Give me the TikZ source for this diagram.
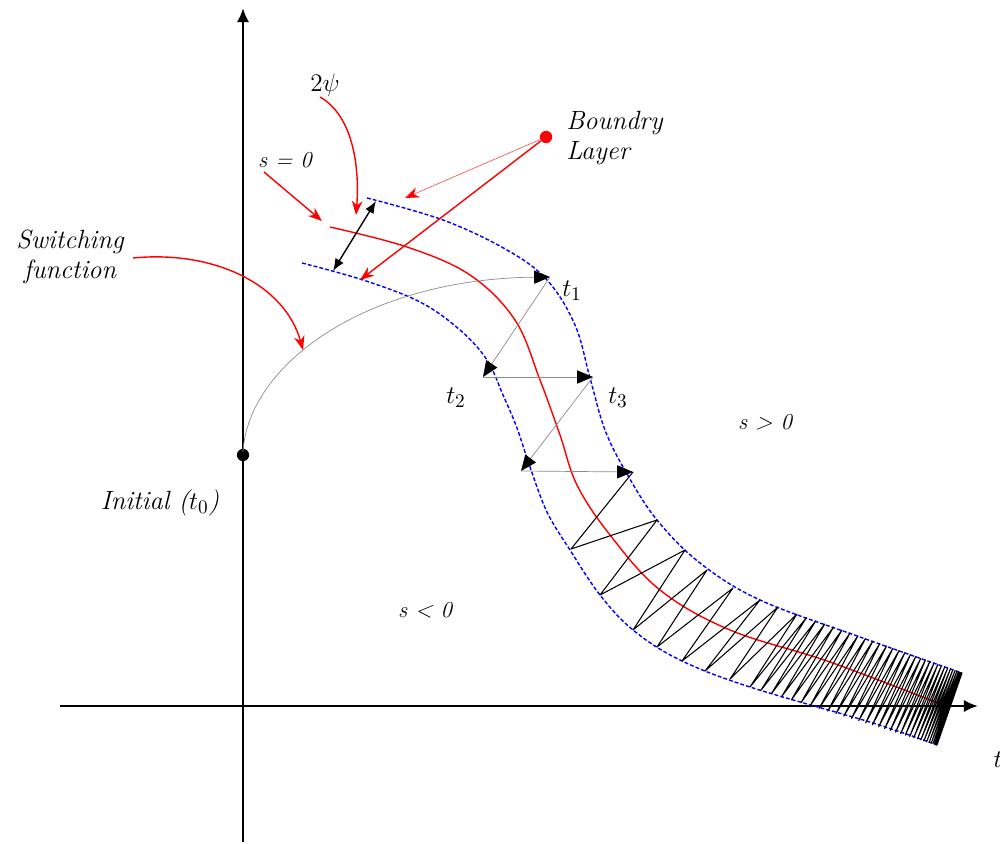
\documentclass[tikz,border=0pt]{standalone}
\usetikzlibrary{arrows.meta}
\begin{document}
\begin{tikzpicture}[x=0.02cm,y=-0.02cm,
  lbl/.style={font=\fontsize{15}{17}\selectfont\itshape, inner sep=0pt},
  slbl/.style={font=\fontsize{13}{15}\selectfont\itshape, inner sep=0pt},
  redarr/.style={draw=red, line width=0.8pt, -{Stealth[length=8pt,width=6pt]}},
  band/.style={draw=blue, line width=0.8pt, dash pattern=on 2.2pt off 1.2pt},
  traj/.style={draw=black!45, line width=0.4pt, -{Triangle[length=9pt,width=7.5pt,color=black]}},
  zig/.style={draw=black, line width=0.6pt, line join=round},
  dotnode/.style={circle, inner sep=0pt, minimum size=7pt}]
\useasboundingbox (0,0) rectangle (1000,844);

% axes
\coordinate (yb) at (243,842);
\coordinate (ym) at (243,480);
\coordinate (yt) at (243,8);
\coordinate (xl) at (60,706);
\coordinate (xm) at (435,706);
\coordinate (xr) at (978,706);
\draw[line width=0.7pt] (yb) -- (ym);
\draw[line width=1.5pt, -{Latex[length=8pt,width=7pt]}] (ym) -- (yt);
\draw[line width=0.7pt] (xl) -- (xm);
\draw[line width=1.5pt, -{Latex[length=8pt,width=7pt]}] (xm) -- (xr);
\node[lbl] (tax) at (998,760) {$t$};

% boundary layer (blue dashed)
\draw[band] plot[smooth, tension=0.6] coordinates {(367,198) (443,220) (507,250) (547,280) (575,325) (590,378) (605,430) (627,474) (657,520) (700,563) (760,600) (860,637) (962,673)};
\draw[band] plot[smooth, tension=0.6] coordinates {(302,263) (363,280) (420,302) (460,330) (487,360) (503,395) (517,428) (530,467) (547,512) (570,550) (600,595) (633,630) (680,660) (750,687) (873,723) (937,745)};

% sliding surface s = 0 (red)
\draw[red, line width=0.8pt] plot[smooth, tension=0.6] coordinates {(330,227) (407,247) (470,275) (515,320) (540,380) (560,435) (577,485) (610,535) (660,590) (730,630) (830,662) (943,705)};

% initial point and reaching phase
\node[dotnode, fill=black] (init) at (243,455) {};
\coordinate (p0) at (243,452);
\coordinate (p1) at (550,277);
\coordinate (p2) at (483,377);
\coordinate (p3) at (593,377);
\coordinate (p4) at (521,471);
\coordinate (p5) at (633,472);
\draw[traj] (p0) .. controls (248,365) and (365,279) .. (p1);
\draw[traj] (p1) -- (p2);
\draw[traj] (p2) -- (p3);
\draw[traj] (p3) -- (p4);
\draw[traj] (p4) -- (p5);

% chattering
\draw[zig] (p5) -- (571,549) -- (657,520) -- (600,595) -- (685,550) -- (633,630) -- (707,570) -- (657,647) -- (733,588) -- (682,661) -- (760,600) -- (705,671) -- (778,607) -- (730,679) -- (797,614) -- (750,687)
  \foreach \k [evaluate=\k as \s using {1-(1-\k/34)^2}] in {1,...,34} { -- ({797+165*\s},{614+59*\s}) -- ({750+187*\s},{687+58*\s}) };

% 2 psi width
\coordinate (w1) at (376,201);
\coordinate (w2) at (333,271);
\draw[line width=0.8pt, {Latex[length=7pt,width=5.5pt]}-{Latex[length=7pt,width=5.5pt]}] (w1) -- (w2);

% labels and red pointers
\node[lbl, anchor=west, align=left] (bl) at (566,138) {Boundry\\Layer};
\node[dotnode, fill=red, minimum size=7pt] (rd) at (546,137) {};
\coordinate (bu) at (405,198);
\coordinate (bd) at (360,280);
\draw[draw=red!70, line width=0.35pt, -{Stealth[length=8pt,width=6pt,color=red]}] (rd) -- (bu);
\draw[redarr] (rd) -- (bd);

\node[lbl] (psi) at (325,85) {$2\psi$};
\coordinate (psiA) at (320,97);
\coordinate (psiB) at (356,215);
\draw[redarr] (psiA) .. controls (352,115) and (360,165) .. (psiB);

\node[slbl] (s0) at (285,160) {s = 0};
\coordinate (s0A) at (264,172);
\coordinate (s0B) at (322,221);
\draw[redarr] (s0A) -- (s0B);

\node[lbl, align=center] (sw) at (70,257) {Switching\\function};
\coordinate (swA) at (133,258);
\coordinate (swB) at (303,350);
\draw[redarr] (swA) .. controls (215,250) and (285,285) .. (swB);

\node[lbl] (lt1) at (572,291) {$t_1$};
\node[lbl] (lt2) at (456,398) {$t_2$};
\node[lbl] (lt3) at (618,398) {$t_3$};
\node[lbl] (lini) at (160,503) {Initial ($t_0$)};
\node[slbl] (spos) at (765,422) {s > 0};
\node[slbl] (sneg) at (425,610) {s < 0};
\end{tikzpicture}
\end{document}
